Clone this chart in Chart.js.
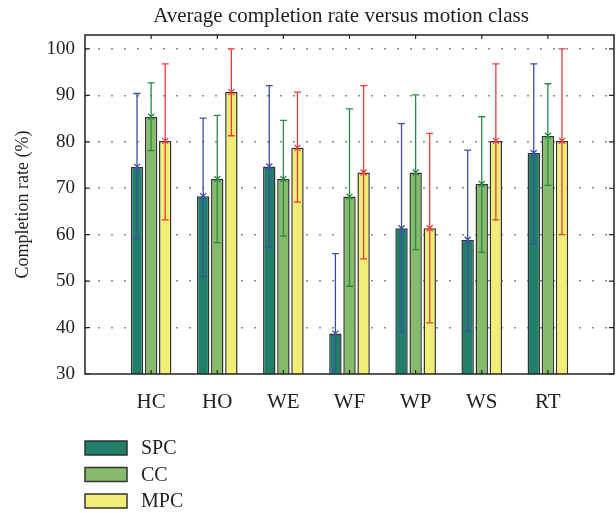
<!DOCTYPE html>
<html>
<head>
<meta charset="utf-8">
<script src="https://cdn.jsdelivr.net/npm/chart.js@4"></script>
<style>
  html, body { margin: 0; padding: 0; background: #fff; }
  #wrap { width: 616px; height: 513px; position: relative; }
</style>
</head>
<body>
<div id="wrap"><canvas id="rateChart"></canvas></div>
<script>
// Average completion rate per motion class
const categories = ['HC', 'HO', 'WE', 'WF', 'WP', 'WS', 'RT'];
const seriesNames = ['SPC', 'CC', 'MPC'];

const spcValues = [74.6, 68.3, 74.7, 38.7, 61.4, 58.9, 77.6];
const spcLow    = [59.1, 51.0, 57.4, 21.5, 39.0, 39.3, 58.0];
const spcHigh   = [90.4, 85.1, 92.1, 55.9, 83.9, 78.2, 96.8];

const ccValues  = [85.4, 72.0, 72.0, 68.2, 73.4, 70.9, 81.3];
const ccLow     = [78.1, 58.3, 59.7, 48.9, 56.8, 56.2, 70.6];
const ccHigh    = [92.7, 85.7, 84.6, 87.1, 90.1, 85.4, 92.5];

const mpcValues = [80.2, 90.7, 78.7, 73.4, 61.4, 80.2, 80.2];
const mpcLow    = [63.2, 81.3, 67.0, 54.8, 41.0, 63.2, 60.0];
const mpcHigh   = [96.8, 100, 90.7, 92.1, 81.8, 96.8, 100];

const yTicks = [30, 40, 50, 60, 70, 80, 90, 100];

const fillColors = ['#1f7f69', '#85bb6b', '#f0ee76'];
const errColors  = ['#3b4fa8', '#2a8a44', '#f03a3a'];
const serif = "'Liberation Serif', 'DejaVu Serif', serif";

// empty slot on each side so the groups sit one step in from the box
const pad = arr => [null].concat(arr, [null]);
const labels = [''].concat(categories, ['']);

const values = [spcValues, ccValues, mpcValues];
const lows = [spcLow, ccLow, mpcLow];
const highs = [spcHigh, ccHigh, mpcHigh];

const datasets = seriesNames.map((name, i) => ({
    label: name,
    data: pad(values[i]),
    errLow: pad(lows[i]),
    errHigh: pad(highs[i]),
    backgroundColor: fillColors[i],
    borderColor: '#333333',
    borderWidth: 1.5,
    categoryPercentage: 0.64,
    barPercentage: 0.88
}));

// error bars with caps and an x marker at the mean
const errorBars = {
    id: 'errorBars',
    afterDatasetsDraw(chart) {
        const ctx = chart.ctx;
        const y = chart.scales.y;
        const area = chart.chartArea;
        ctx.save();
        ctx.beginPath();
        ctx.rect(area.left, area.top, area.right - area.left, area.bottom - area.top);
        ctx.clip();
        chart.data.datasets.forEach((ds, i) => {
            const meta = chart.getDatasetMeta(i);
            ctx.strokeStyle = errColors[i];
            ctx.lineWidth = 1.3;
            meta.data.forEach((bar, j) => {
                if (ds.data[j] == null) return;
                const x = bar.x;
                const yHi = y.getPixelForValue(ds.errHigh[j]);
                const yLo = y.getPixelForValue(ds.errLow[j]);
                const yMid = y.getPixelForValue(ds.data[j]);
                ctx.beginPath();
                ctx.moveTo(x, yHi); ctx.lineTo(x, yLo);
                ctx.moveTo(x - 3.5, yHi); ctx.lineTo(x + 3.5, yHi);
                ctx.moveTo(x - 3.5, yLo); ctx.lineTo(x + 3.5, yLo);
                ctx.moveTo(x - 3, yMid - 3); ctx.lineTo(x + 3, yMid + 3);
                ctx.moveTo(x - 3, yMid + 3); ctx.lineTo(x + 3, yMid - 3);
                ctx.stroke();
            });
        });
        ctx.restore();
    }
};

// frame with inward ticks, title and the stacked legend
const frame = {
    id: 'frame',
    afterDraw(chart) {
        const ctx = chart.ctx;
        const a = chart.chartArea;
        const x = chart.scales.x;
        const y = chart.scales.y;
        ctx.save();
        ctx.strokeStyle = '#222';
        ctx.lineWidth = 1.5;
        ctx.strokeRect(a.left, a.top, a.right - a.left, a.bottom - a.top);
        ctx.lineWidth = 1.2;
        ctx.beginPath();
        yTicks.forEach(v => {
            const py = y.getPixelForValue(v);
            ctx.moveTo(a.left, py); ctx.lineTo(a.left + 5, py);
            ctx.moveTo(a.right, py); ctx.lineTo(a.right - 5, py);
        });
        categories.forEach((c, i) => {
            const px = x.getPixelForValue(i + 1);
            ctx.moveTo(px, a.top); ctx.lineTo(px, a.top + 4);
            ctx.moveTo(px, a.bottom); ctx.lineTo(px, a.bottom - 4);
        });
        ctx.stroke();

        ctx.fillStyle = '#222';
        ctx.font = '21px ' + serif;
        ctx.textAlign = 'center';
        ctx.textBaseline = 'middle';
        ctx.fillText('Average completion rate versus motion class', 341, 16);

        ctx.font = '20px ' + serif;
        ctx.textAlign = 'left';
        chart.data.datasets.forEach((ds, i) => {
            const cy = 448 + i * 26.5;
            ctx.fillStyle = ds.backgroundColor;
            ctx.fillRect(85, cy - 7, 42, 14);
            ctx.strokeStyle = '#333';
            ctx.lineWidth = 1.5;
            ctx.strokeRect(85, cy - 7, 42, 14);
            ctx.fillStyle = '#222';
            ctx.fillText(ds.label, 141, cy + 1);
        });
        ctx.restore();
    }
};

new Chart(document.getElementById('rateChart'), {
    type: 'bar',
    data: { labels: labels, datasets: datasets },
    plugins: [errorBars, frame],
    options: {
        responsive: true,
        maintainAspectRatio: false,
        animation: false,
        layout: { padding: { top: 35, right: 2, bottom: 99, left: 0 } },
        plugins: {
            legend: { display: false },
            title: { display: false },
            tooltip: { enabled: false }
        },
        scales: {
            x: {
                offset: false,
                grid: { display: false },
                border: { display: false },
                ticks: {
                    autoSkip: false,
                    maxRotation: 0,
                    padding: 8,
                    color: '#222',
                    font: { family: serif, size: 21 }
                },
                afterFit: s => {
                    s.height = 40;
                    s.paddingLeft = 0;
                    s.paddingRight = 0;
                }
            },
            y: {
                min: 30,
                max: 103,
                ticks: {
                    padding: 10,
                    color: '#222',
                    font: { family: serif, size: 19 }
                },
                afterBuildTicks: s => {
                    s.ticks = yTicks.map(v => ({ value: v }));
                },
                grid: {
                    drawTicks: false,
                    color: ctx => (ctx.tick && ctx.tick.value === 30) ? 'rgba(0,0,0,0)' : '#8a8a8a',
                    lineWidth: 1.5
                },
                border: { display: false, dash: [2, 11] },
                title: {
                    display: true,
                    text: 'Completion rate (%)',
                    color: '#222',
                    padding: { top: 12, bottom: 0 },
                    font: { family: serif, size: 18 }
                },
                afterFit: s => { s.width = 85; }
            }
        }
    }
});
</script>
</body>
</html>
